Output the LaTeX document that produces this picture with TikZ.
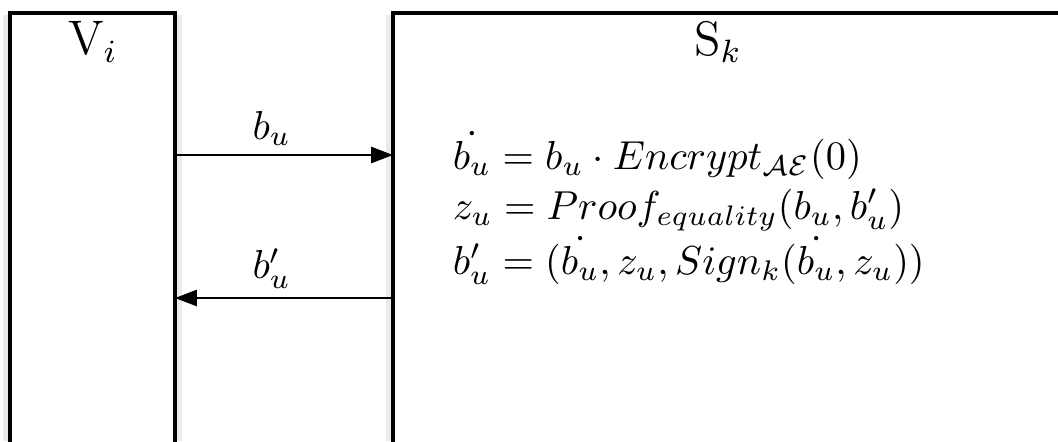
\documentclass[tikz,border=0pt]{standalone}
\usepackage{amsmath,amssymb}
\usetikzlibrary{arrows.meta,positioning}
\tikzset{
  lane/.style={line width=0.75pt,draw=black},
  haze/.style={line width=2pt,draw=black!8},
  msg/.style={-{Triangle[length=5.4pt,width=4pt]},line width=0.5pt},
  lbl/.style={inner sep=1pt,font=\normalsize},
}
\begin{document}
\begin{tikzpicture}[x=0.2474pt,y=-0.2474pt]
\useasboundingbox (0,0) rectangle (1058,441);
\clip (0,0) rectangle (1058,441);
% soft edge of the boxes
\draw[haze] (7,441) -- (7,15);
\draw[haze] (178,441) -- (178,15);
\draw[haze] (390,441) -- (390,15);
% the two parties
\draw[lane] (10,445) -- (10,13) -- (175,13) -- (175,445);
\draw[lane] (393,445) -- (393,13) -- (1062,13);
\node[lbl,font=\large] (vname) at (93,42) {V$_i$};
\node[lbl,font=\large] (sname) at (718,42) {S$_k$};
% message end points
\coordinate (vout) at (175,155);
\coordinate (sin) at (393,155);
\coordinate (sout) at (393,298);
\coordinate (vin) at (175,298);
\draw[msg] (vout) -- node[lbl,above=1pt,xshift=-3pt] (ballot) {$b_u$} (sin);
\draw[msg] (sout) -- node[lbl,above=1pt,xshift=-3pt] (reply) {$b'_u$} (vin);
% computation at the server
\node[lbl,anchor=north west,align=left] (calc) at (448,127)
  {$\dot{b_u} = b_u \cdot Encrypt_{\mathcal{AE}}(0)$\\[0.4pt]
   $z_u = Proof_{equality}(b_u, b'_u)$\\[0.4pt]
   $b'_u = (\dot{b_u}, z_u, Sign_k(\dot{b_u}, z_u))$};
\end{tikzpicture}
\end{document}
